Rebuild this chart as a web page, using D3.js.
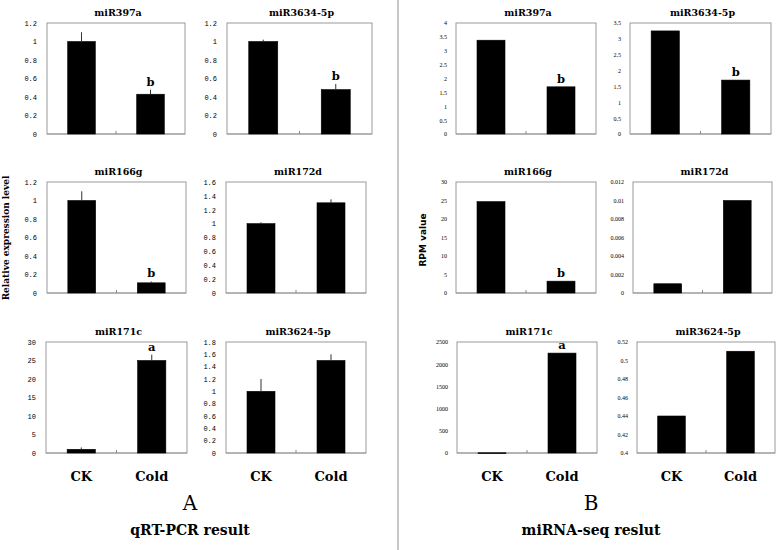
<!DOCTYPE html>
<html><head><meta charset="utf-8">
<script src="https://cdn.jsdelivr.net/npm/d3@7/dist/d3.min.js"></script>
<style>body{margin:0;background:#fff}</style>
</head><body>
<svg id="c" width="778" height="550"></svg>
<script>
const categories = ["CK", "Cold"];
// qRT-PCR (relative expression level)
const pcrTitles = ["miR397a", "miR3634-5p", "miR166g", "miR172d", "miR171c", "miR3624-5p"];
const pcrValues = [[1, 0.43], [1, 0.48], [1, 0.11], [1, 1.3], [1, 25], [1, 1.5]];
const pcrErrors = [[0.1, 0.05], [0.02, 0.06], [0.1, 0.015], [0.02, 0.05], [0.5, 1.6], [0.2, 0.1]];
const pcrLetters = [["", "b"], ["", "b"], ["", "b"], ["", ""], ["", "a"], ["", ""]];
const pcrDomains = [[0, 1.2], [0, 1.2], [0, 1.2], [0, 1.6], [0, 30], [0, 1.8]];
const pcrSteps = [0.2, 0.2, 0.2, 0.2, 5, 0.2];
// miRNA-seq (RPM value)
const seqTitles = ["miR397a", "miR3634-5p", "miR166g", "miR172d", "miR171c", "miR3624-5p"];
const seqValues = [[3.38, 1.7], [3.25, 1.7], [24.7, 3.2], [0.001, 0.01], [5, 2250], [0.44, 0.51]];
const seqLetters = [["", "b"], ["", "b"], ["", "b"], ["", ""], ["", "a"], ["", ""]];
const seqDomains = [[0, 4], [0, 3.5], [0, 30], [0, 0.012], [0, 2500], [0.4, 0.52]];
const seqSteps = [0.5, 0.5, 5, 0.002, 500, 0.02];

const svg = d3.select("#c");
const serif = "'DejaVu Serif', 'Liberation Serif', serif";
const tickFont = "'Liberation Serif', serif";

// frames: [left, top, right, bottom]
const pcrFrames = [[47,23,185,134],[227,23,372,134],[47,182,186,293],[226,182,366,293],[46,342,187,453],[226,342,366,453]];
const seqFrames = [[456,23,596,134],[630,23,771,134],[456,182,596,293],[633,182,772,293],[457,342,597,453],[637,342,775,453]];

function fmtFor(step) {
  const dec = Math.max(0, -Math.floor(Math.log10(step) + 1e-9));
  return v => (+v.toFixed(dec)).toString();
}

function panel(fr, title, vals, errs, letters, domain, step, pcr) {
  const [x0, y0, x1, y1] = fr;
  const w = x1 - x0, h = y1 - y0;
  const g = svg.append("g").attr("transform", `translate(${x0},${y0})`);
  const x = d3.scalePoint().domain(categories).range([0, w]).padding(0.5);
  const y = d3.scaleLinear().domain(domain).range([h, 0]);
  const bw = w * 0.2;
  g.append("rect").attr("width", w).attr("height", h).attr("fill", "none").attr("stroke", "#9a9a9a").attr("stroke-width", 1);
  const ticks = d3.range(domain[0], domain[1] + step / 2, step);
  const ax = g.append("g").call(d3.axisLeft(y).tickValues(ticks).tickSize(0).tickPadding(pcr ? 10 : 9).tickFormat(fmtFor(step)));
  ax.select(".domain").remove();
  ax.selectAll("text").attr("font-family", pcr ? "'Liberation Mono', 'DejaVu Sans Mono', monospace" : tickFont)
    .attr("font-size", pcr ? 7 : 6).attr("fill", "#000");
  // bottom axis line with middle tick
  g.append("line").attr("x1", 0).attr("x2", w).attr("y1", h).attr("y2", h).attr("stroke", "#9a9a9a");
  g.append("line").attr("x1", w / 2).attr("x2", w / 2).attr("y1", h).attr("y2", h - 3).attr("stroke", "#888");
  categories.forEach((c, i) => {
    const v = vals[i];
    g.append("rect").attr("x", x(c) - bw / 2).attr("y", y(v)).attr("width", bw).attr("height", Math.max(0.8, y(domain[0]) - y(v)))
      .attr("fill", "#000").attr("stroke", "#000").attr("stroke-width", 0.6);
    let top = y(v);
    if (errs) {
      const e = errs[i];
      g.append("line").attr("x1", x(c)).attr("x2", x(c)).attr("y1", y(v)).attr("y2", y(v + e)).attr("stroke", "#333").attr("stroke-width", 1);
      top = y(v + e);
    }
    if (letters[i]) {
      g.append("text").attr("x", x(c)).attr("y", top - 4).attr("text-anchor", "middle")
        .attr("font-family", serif).attr("font-weight", "bold").attr("font-size", 11.5).text(letters[i]);
    }
  });
  svg.append("text").attr("x", x0 + w / 2 + 2).attr("y", y0 - 7).attr("text-anchor", "middle")
    .attr("font-family", serif).attr("font-weight", "bold").attr("font-size", 9.5).text(title);
  return x;
}

pcrTitles.forEach((t, i) => panel(pcrFrames[i], t, pcrValues[i], pcrErrors[i], pcrLetters[i], pcrDomains[i], pcrSteps[i], true));
seqTitles.forEach((t, i) => panel(seqFrames[i], t, seqValues[i], null, seqLetters[i], seqDomains[i], seqSteps[i], false));

// category labels under bottom row
[pcrFrames[4], pcrFrames[5], seqFrames[4], seqFrames[5]].forEach(fr => {
  const x = d3.scalePoint().domain(categories).range([fr[0], fr[2]]).padding(0.5);
  categories.forEach(c => {
    svg.append("text").attr("x", x(c)).attr("y", 481).attr("text-anchor", "middle")
      .attr("font-family", serif).attr("font-weight", "bold").attr("font-size", 13).text(c);
  });
});

// y-axis titles
svg.append("text").attr("transform", "translate(9,238) rotate(-90)").attr("text-anchor", "middle")
  .attr("font-family", serif).attr("font-weight", "bold").attr("font-size", 9).text("Relative expression level");
svg.append("text").attr("transform", "translate(426,240) rotate(-90)").attr("text-anchor", "middle")
  .attr("font-family", "'DejaVu Sans', sans-serif").attr("font-weight", "bold").attr("font-size", 9).text("RPM value");

// divider
svg.append("line").attr("x1", 398).attr("x2", 398).attr("y1", 0).attr("y2", 550).attr("stroke", "#b5b5b5").attr("stroke-width", 1.5);

// panel labels
svg.append("text").attr("x", 190).attr("y", 510).attr("text-anchor", "middle").attr("font-family", serif).attr("font-size", 20).text("A");
svg.append("text").attr("x", 190).attr("y", 535).attr("text-anchor", "middle").attr("font-family", serif).attr("font-weight", "bold").attr("font-size", 14).text("qRT-PCR result");
svg.append("text").attr("x", 591).attr("y", 510).attr("text-anchor", "middle").attr("font-family", serif).attr("font-size", 20).text("B");
svg.append("text").attr("x", 591).attr("y", 535).attr("text-anchor", "middle").attr("font-family", serif).attr("font-weight", "bold").attr("font-size", 14).text("miRNA-seq reslut");
</script>
</body></html>
